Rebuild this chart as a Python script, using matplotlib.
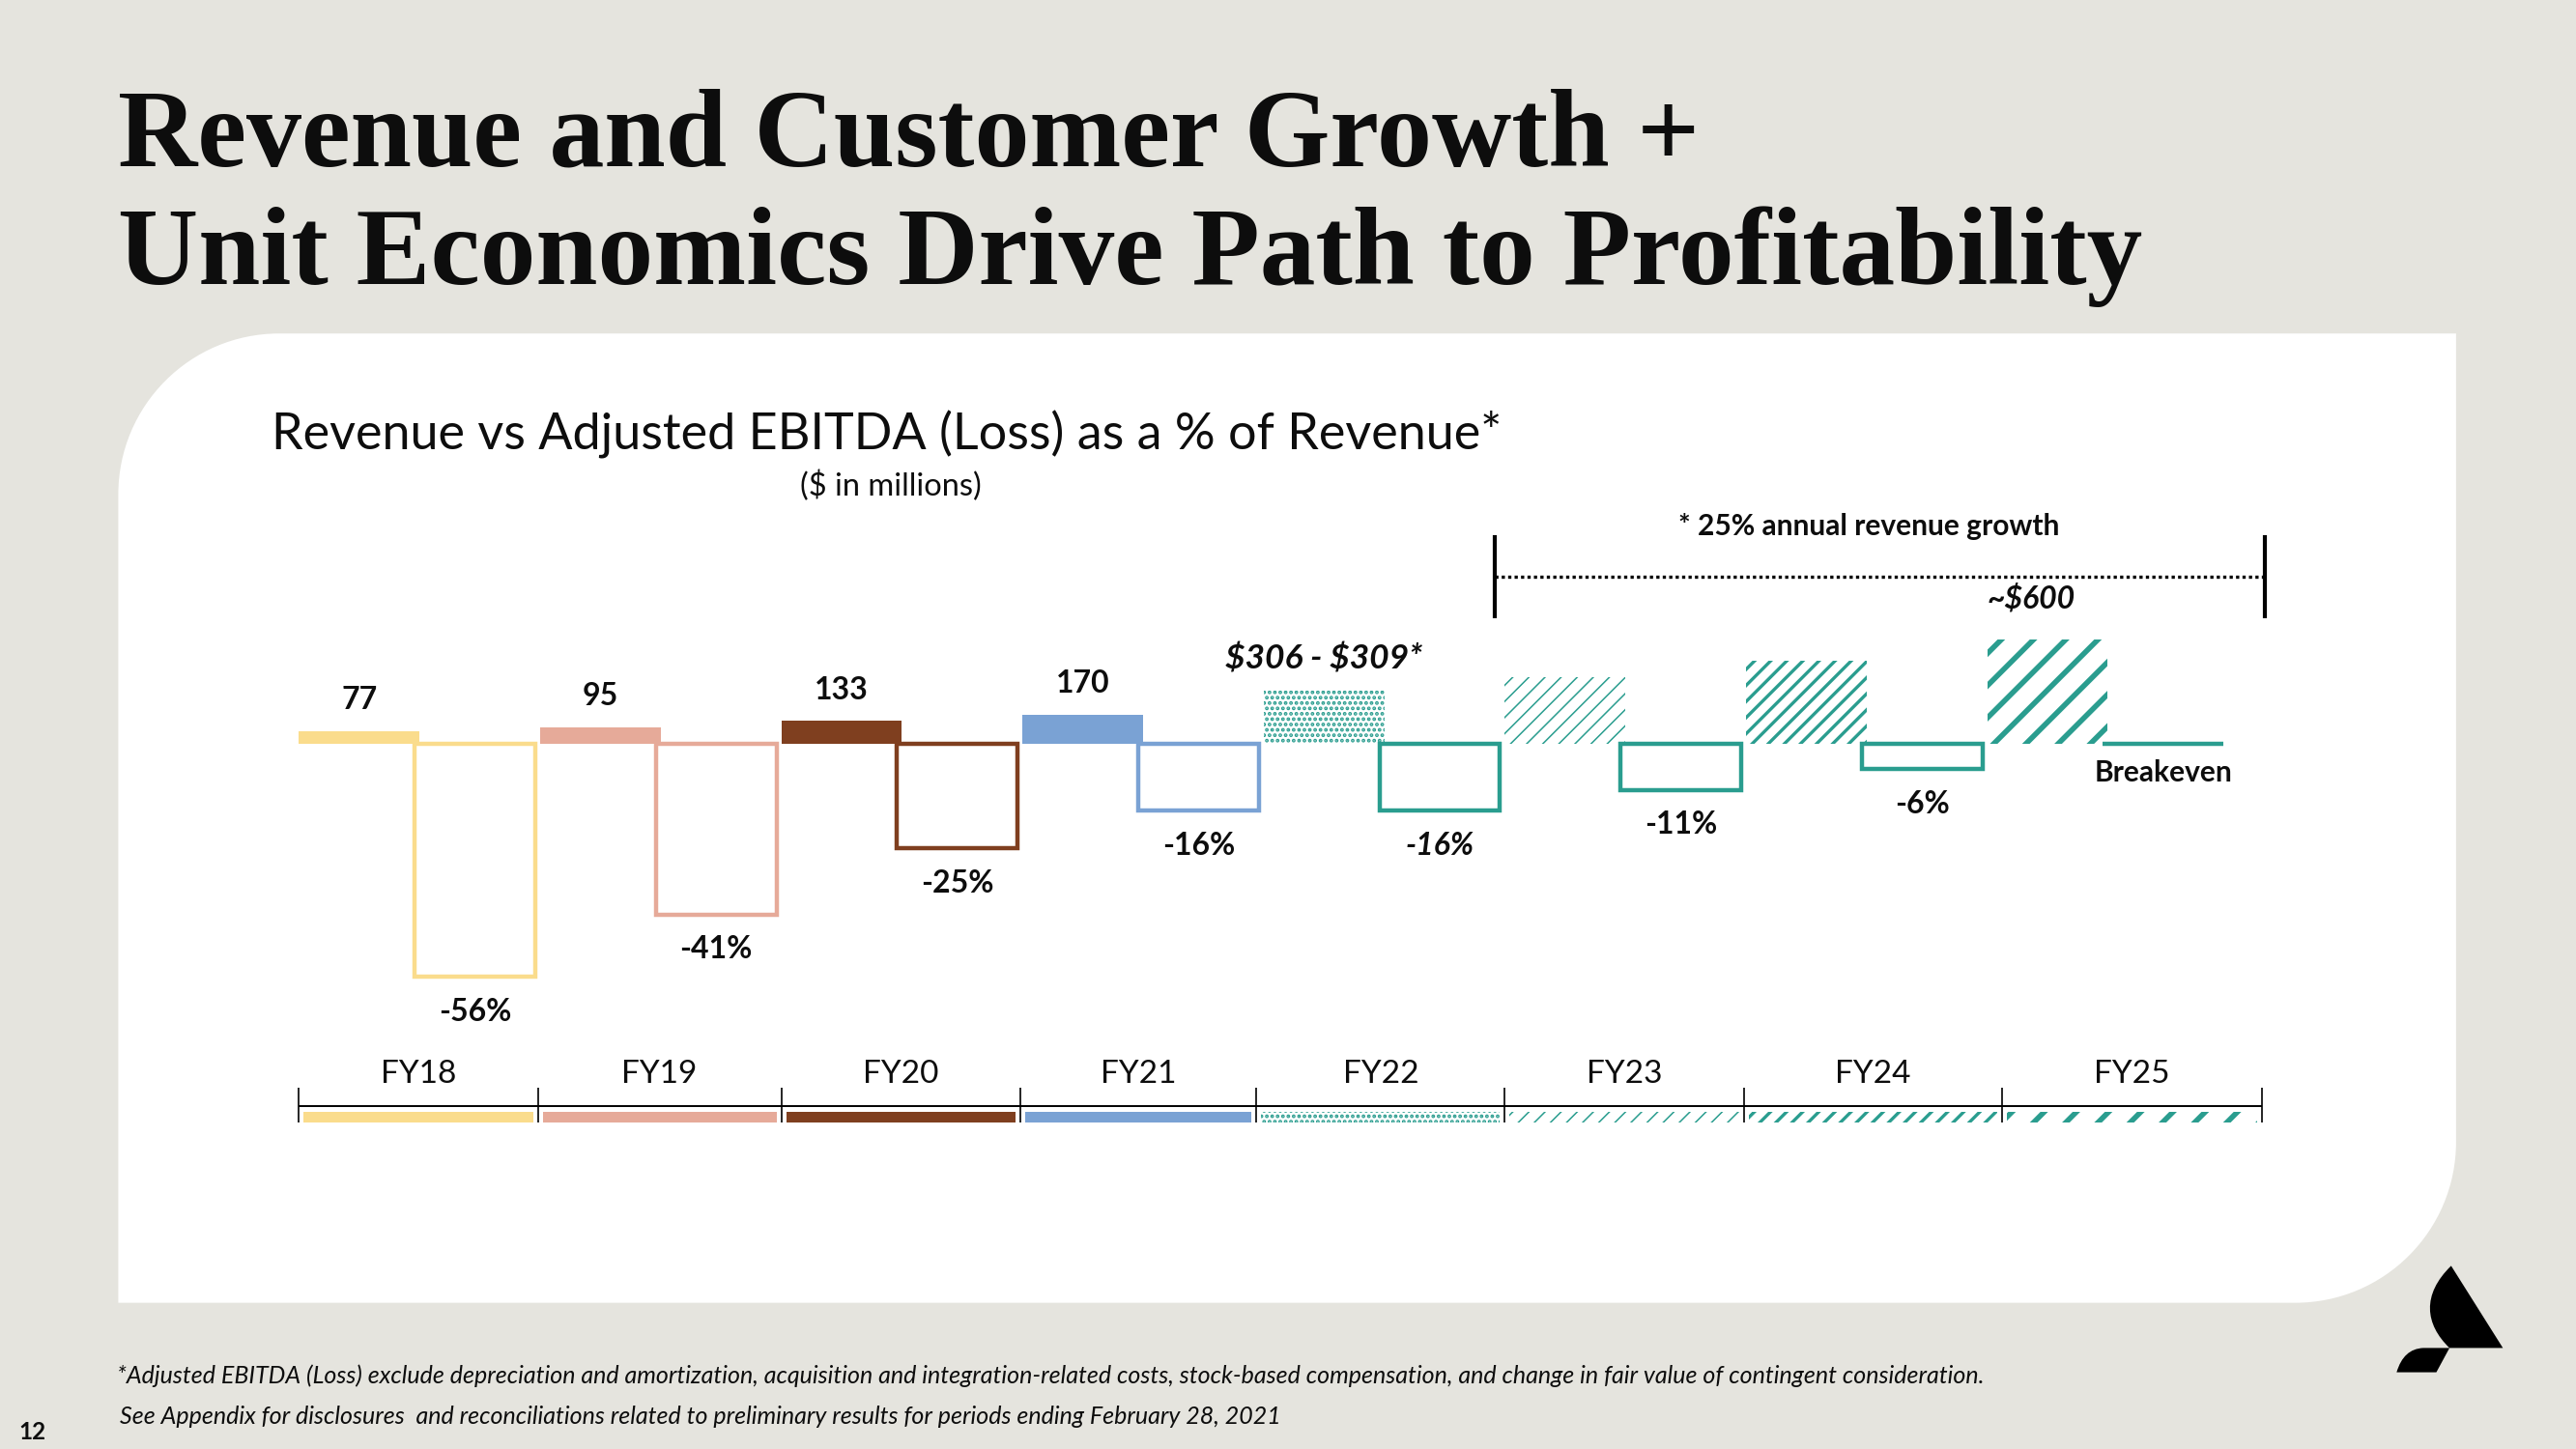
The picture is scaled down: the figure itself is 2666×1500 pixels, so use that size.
import matplotlib
matplotlib.use('Agg')
import matplotlib.pyplot as plt
from matplotlib.patches import PathPatch, Rectangle
from matplotlib.path import Path
from matplotlib.transforms import blended_transform_factory

# ---------------- data ----------------
years = ['FY18', 'FY19', 'FY20', 'FY21', 'FY22', 'FY23', 'FY24', 'FY25']
revenue = [77, 95, 133, 170, 307.5, 384, 480, 600]          # $ millions
ebitda_pct = [-56, -41, -25, -16, -16, -11, -6, 0]           # % of revenue
revenue_labels = ['77', '95', '133', '170', '$306 - $309*', '', '', '~$600']
pct_labels = ['-56%', '-41%', '-25%', '-16%', '-16%', '-11%', '-6%', 'Breakeven']
estimate = [False, False, False, False, True, False, False, True]
pct_italic = [False, False, False, False, True, False, False, False]
timeline_edges = [0, 0.99, 2.0, 2.99, 3.97, 5.0, 5.99, 7.06, 8.14]
bracket_span = [4.96, 8.15]

# ---------------- style ----------------
colors = ['#FADC8C', '#E6AA99', '#7F3F1F', '#7AA2D4', '#2A9D8F', '#2A9D8F', '#2A9D8F', '#2A9D8F']
hatches = [None, None, None, None, '...', '//', '//', '/']
hatch_lw = [1.0, 1.0, 1.0, 1.0, 1.9, 1.1, 2.4, 4.0]
BG = '#E5E4DE'
INK = '#0D0D0D'
FONT = ['Lato', 'DejaVu Sans']
SERIF = ['Liberation Serif', 'DejaVu Serif']

W, H = 1568, 882            # layout units (pixels of the 1568-wide view)
X0, PITCH = 182, 146.8      # x of first bar, spacing between years
ZERO_Y = 453                # zero line position (from top)
REV_PX = 0.1059             # layout px per $M
PCT_PX = 2.53               # layout px per %

fig = plt.figure(figsize=(26.66, 15), dpi=100, facecolor=BG)

# background / decorations axes in layout units
bg = fig.add_axes([0, 0, 1, 1], zorder=0)
bg.set_xlim(0, W)
bg.set_ylim(H, 0)
bg.axis('off')

# white panel with rounded top-left and bottom-right corners
L, T, Rr, B, R = 72, 203, 1495, 793, 98
k = 0.5523 * R
verts = [(L + R, T), (Rr, T), (Rr, B - R), (Rr, B - R + k), (Rr - R + k, B), (Rr - R, B),
         (L, B), (L, T + R), (L, T + R - k), (L + R - k, T), (L + R, T), (L + R, T)]
codes = [Path.MOVETO, Path.LINETO, Path.LINETO, Path.CURVE4, Path.CURVE4, Path.CURVE4,
         Path.LINETO, Path.LINETO, Path.CURVE4, Path.CURVE4, Path.CURVE4, Path.CLOSEPOLY]
bg.add_patch(PathPatch(Path(verts, codes), facecolor='white', edgecolor='none'))

# logo
logo1 = Path([(1492, 770.5), (1523.5, 820.5), (1491, 820.5), (1476, 806), (1474, 788), (1492, 770.5), (1492, 770.5)],
             [Path.MOVETO, Path.LINETO, Path.LINETO, Path.CURVE4, Path.CURVE4, Path.CURVE4, Path.CLOSEPOLY])
logo2 = Path([(1458.8, 835.3), (1483, 835.3), (1491, 820.5), (1475, 820.5), (1463, 821), (1458.8, 835.3), (1458.8, 835.3)],
             [Path.MOVETO, Path.LINETO, Path.LINETO, Path.LINETO, Path.CURVE3, Path.CURVE3, Path.CLOSEPOLY])
bg.add_patch(PathPatch(logo1, facecolor='black', edgecolor='none'))
bg.add_patch(PathPatch(logo2, facecolor='black', edgecolor='none'))

# titles
bg.text(72, 101, 'Revenue and Customer Growth +', family=SERIF, weight='bold', fontsize=82,
        color=INK, va='baseline', ha='left')
bg.text(72, 173, 'Unit Economics Drive Path to Profitability', family=SERIF, weight='bold', fontsize=83,
        color=INK, va='baseline', ha='left')
bg.text(165, 274, 'Revenue vs Adjusted EBITDA (Loss) as a % of Revenue*', family=FONT, fontsize=37.5,
        color=INK, va='baseline', ha='left', parse_math=False)
bg.text(542, 302, '($ in millions)', family=FONT, fontsize=23.5, color=INK, va='baseline', ha='center',
        parse_math=False)

# footnotes
bg.text(71, 842, '*Adjusted EBITDA (Loss) exclude depreciation and amortization, acquisition and integration-related '
        'costs, stock-based compensation, and change in fair value of contingent consideration.',
        family=FONT, style='italic', fontsize=18, color=INK, va='baseline')
bg.text(73, 866.5, 'See Appendix for disclosures  and reconciliations related to preliminary results for periods '
        'ending February 28, 2021', family=FONT, style='italic', fontsize=18, color=INK, va='baseline')
bg.text(11.5, 876, '12', family=FONT, weight='bold', fontsize=17.5, color=INK, va='baseline')

# ---------------- chart axes ----------------
ax = fig.add_axes([0, 0, 1, 1], zorder=1)
ax.patch.set_visible(False)
ax.set_xlim(-X0 / PITCH, (W - X0) / PITCH)
ax.set_ylim(-(H - ZERO_Y) / REV_PX, ZERO_Y / REV_PX)
ax.axis('off')
ax2 = ax.twinx()
ax2.patch.set_visible(False)
ax2.set_ylim(-(H - ZERO_Y) / PCT_PX, ZERO_Y / PCT_PX)
ax2.axis('off')

trans = blended_transform_factory(ax.transData, bg.transData)


def style_patch(p, i):
    if hatches[i]:
        p.set_facecolor('white')
        p.set_edgecolor(colors[i])
        p.set_linewidth(0)
        p.set_hatch(hatches[i])
        if hasattr(p, 'set_hatch_linewidth'):
            p.set_hatch_linewidth(hatch_lw[i])
    else:
        p.set_facecolor(colors[i])
        p.set_edgecolor('none')
        p.set_linewidth(0)


for i in range(len(years)):
    with plt.rc_context({'hatch.linewidth': hatch_lw[i]}):
        bars = ax.bar(i, revenue[i], width=0.5, align='edge')
        for p in bars.patches:
            style_patch(p, i)
        ax2.bar(i + 0.48, ebitda_pct[i], width=0.5, align='edge', facecolor='none',
                edgecolor=colors[i], linewidth=3.2, joinstyle='miter')

    if revenue_labels[i]:
        off = (-12, 24) if i == len(years) - 1 else (0, 16.5)
        size = 25.5 if len(revenue_labels[i]) > 6 else 23
        ax.annotate(revenue_labels[i], (i + 0.25, revenue[i]), xytext=off, textcoords='offset points',
                    ha='center', va='baseline', family=FONT, fontsize=size, weight='bold',
                    style='italic' if estimate[i] else 'normal', color=INK, parse_math=False)
    ax2.annotate(pct_labels[i], (i + 0.73, ebitda_pct[i]),
                 xytext=(0, -15.5 if ebitda_pct[i] else -11.5), textcoords='offset points',
                 ha='center', va='top', family=FONT, fontsize=23 if ebitda_pct[i] else 21.5, weight='bold',
                 style='italic' if pct_italic[i] else 'normal', color=INK, parse_math=False)

# timeline at the bottom
e = timeline_edges
ax.plot([e[0], e[-1]], [673.5, 673.5], transform=trans, color='black', lw=1.4, solid_capstyle='butt')
ax.vlines(e, 662, 683.5, transform=trans, color='black', lw=1.2)
for i in range(len(years)):
    with plt.rc_context({'hatch.linewidth': hatch_lw[i]}):
        r = Rectangle((e[i] + 0.02, 676.5), e[i + 1] - e[i] - 0.04, 6.5, transform=trans)
        style_patch(r, i)
        ax.add_patch(r)
    ax.text((e[i] + e[i + 1]) / 2, 659, years[i], transform=trans, ha='center', va='baseline',
            family=FONT, fontsize=24, color=INK)

# bracket for projected years
b0, b1 = bracket_span
ax.vlines([b0, b1], 326, 376.6, transform=trans, color='black', lw=3)
ax.plot([b0, b1], [351, 351], transform=trans, color='black', lw=2.4, ls=(0, (1, 1)))
ax.text((b0 + b1) / 2 - 0.045, 326, '* 25% annual revenue growth', transform=trans, ha='center',
        va='baseline', family=FONT, fontsize=21.5, weight='bold', color=INK)

fig.savefig('out.png', dpi=100, facecolor=BG)
